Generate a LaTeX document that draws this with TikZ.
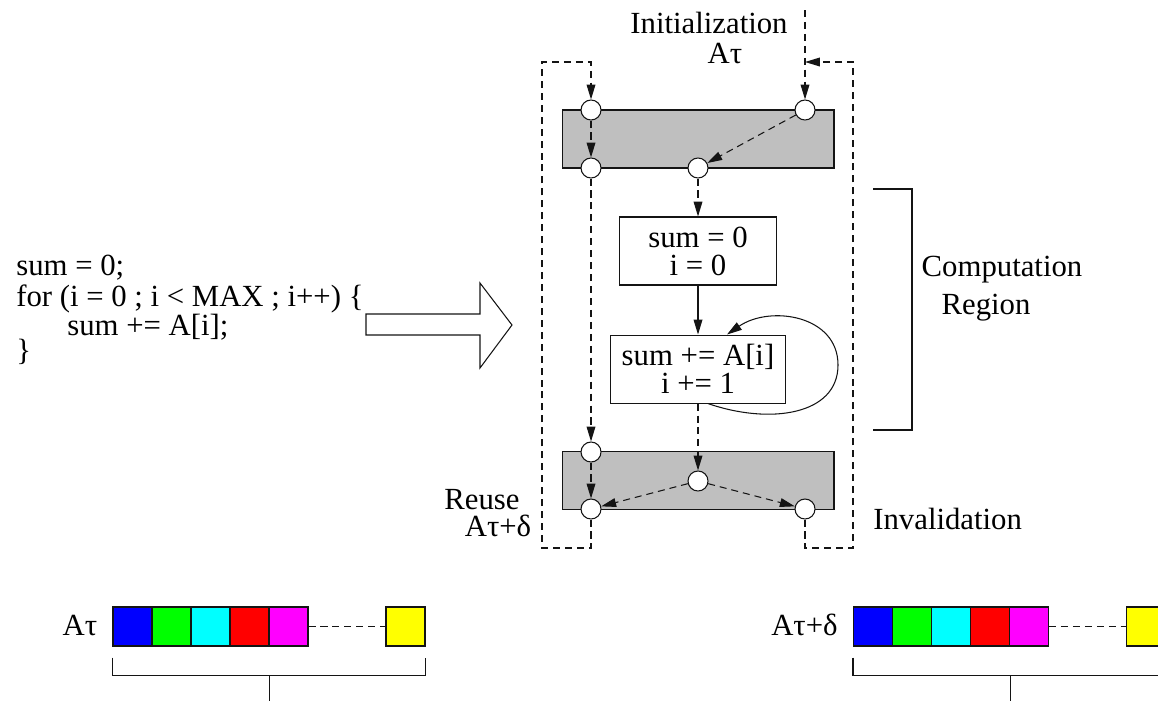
\documentclass[tikz,border=0pt]{standalone}
\usepackage{xcolor}
\usepackage{fontspec}
\setmainfont{Liberation Serif}
\usepackage{tikz}
\usetikzlibrary{arrows.meta, positioning, calc}
\definecolor{regiongray}{RGB}{191,191,191}
\definecolor{mydark}{RGB}{20,20,20}
\definecolor{slotblue}{RGB}{0,0,255}
\definecolor{slotgreen}{RGB}{0,255,0}
\definecolor{slotcyan}{RGB}{0,255,255}
\definecolor{slotred}{RGB}{255,0,0}
\definecolor{slotmagenta}{RGB}{255,0,255}
\definecolor{slotyellow}{RGB}{255,255,0}
\tikzset{
  port/.style={circle, draw=mydark, fill=white, minimum size=0.4cm,
    inner sep=0pt, line width=0.6pt},
  region/.style={rectangle, draw=mydark, fill=regiongray, minimum width=5.44cm,
    minimum height=1.16cm, line width=0.6pt},
  stmt/.style={rectangle, draw=mydark, align=center, minimum height=1.36cm,
    font=\fontsize{17.5}{16}\selectfont, line width=0.6pt},
  slot/.style={rectangle, draw=mydark, minimum size=0.78cm, inner sep=0pt,
    line width=0.6pt},
  txt/.style={inner sep=0pt},
  arrow/.style={-{Triangle[length=8.5pt, width=5pt]}, line width=0.6pt, color=mydark},
  dflow/.style={arrow, dash pattern=on 4pt off 2.8pt},
  dline/.style={line width=0.6pt, color=mydark, dash pattern=on 4pt off 2.8pt},
  line/.style={line width=0.6pt, color=mydark}
}

\begin{document}
\begin{tikzpicture}[x=0.02cm, y=-0.02cm, font=\fontsize{17.5}{21}\selectfont]
  \useasboundingbox (0,0) rectangle (1158,700);
  \clip (0,0) rectangle (1158,700);

  % source loop
  \node[txt, anchor=base west] (code1) at (16,275) {sum = 0;};
  \node[txt, anchor=base west] (code2) at (16,306) {for (i = 0 ; i < MAX ; i++) \{};
  \node[txt, anchor=base west] (code3) at (67,335) {sum += A[i];};
  \node[txt, anchor=base west] (code4) at (16,360) {\}};
  \draw[line] (366,314) -- (480,314) -- (480,283) -- (512,325) -- (480,368)
    -- (480,335) -- (366,335) -- cycle;

  % regions and ports
  \node[region] (top) at (698,139) {};
  \node[region] (bot) at (698,480.5) {};
  \node[port] (ti) at (591,110) {};
  \node[port] (tr) at (805,110) {};
  \node[port] (tl) at (591,168) {};
  \node[port] (tm) at (698,168) {};
  \node[port] (bi) at (591,452) {};
  \node[port] (bm) at (698,481) {};
  \node[port] (bl) at (591,509) {};
  \node[port] (br) at (805,509) {};

  % computation
  \node[stmt, minimum width=3.14cm] (init) at (698,251) {sum = 0\\ i = 0};
  \node[stmt, minimum width=3.5cm, below=0.98cm of init] (body) {sum += A[i]\\ i += 1};

  \draw[dflow] (ti) -- (tl);
  \draw[dflow] (tr) -- (tm);
  \draw[dflow] (tl) -- (bi);
  \draw[dflow] (tm) -- (init);
  \draw[arrow] (init) -- (body);
  \draw[arrow] ($(body.south)+(10,0)$) .. controls (770,425) and (838,415) .. (838,365)
    .. controls (838,315) and (770,305) .. ($(body.north)+(29,0)$);
  \draw[dflow] (body) -- (bm);
  \draw[dflow] (bi) -- (bl);
  \draw[dflow] (bm) -- (bl);
  \draw[dflow] (bm) -- (br);

  % reuse and invalidation paths
  \coordinate (reusetop) at (542,62);
  \coordinate (reusebot) at (542,548);
  \coordinate (invtop) at (853,62);
  \coordinate (invbot) at (853,548);
  \coordinate (initsrc) at (805,10);
  \coordinate (merge) at (805,62);
  \draw[dflow] (bl) |- (reusebot) -- (reusetop) -| (ti);
  \draw[dflow] (br) |- (invbot) -- (invtop) -- (merge);
  \draw[dflow] (initsrc) -- (tr);

  \node[txt, anchor=base] (initlbl) at (709,33) {Initialization};
  \node[txt, anchor=base] (initsym) at (725,63) {Aτ};
  \node[txt, anchor=base] (reuselbl) at (482,509) {Reuse};
  \node[txt, anchor=base] (reusesym) at (498,536) {Aτ+δ};
  \node[txt, anchor=base west] (invlbl) at (873,529) {Invalidation};

  \draw[line] (873,189) -| (912,430) -- (873,430);
  \node[txt, anchor=base] (complbl) at (1002,276) {Computation};
  \node[txt, anchor=base] (regionlbl) at (986,314) {Region};

  % value arrays
  \foreach \ox/\nm/\txt in {0/a/{Aτ}, 740.5/b/{Aτ+δ}} {
    \foreach \c [count=\i] in {slotblue, slotgreen, slotcyan, slotred, slotmagenta}
      \node[slot, fill=\c] (\nm\i) at (132.5+\ox+39*\i-39,626.5) {};
    \node[slot, fill=slotyellow] (\nm6) at (405.5+\ox,626.5) {};
    \node[txt, anchor=base east] (\nm lbl) at ($(\nm1.west)+(-15,8.5)$) {\txt};
    \draw[dline] (\nm5) -- (\nm6);
    \draw[line] ($(\nm1.south west)+(0,11)$) -- ++(0,18) -| ($(\nm6.south east)+(0,11)$);
    \draw[line] ($(\nm4.south east)+(0,29)$) -- ++(0,40);
  }
\end{tikzpicture}
\end{document}
